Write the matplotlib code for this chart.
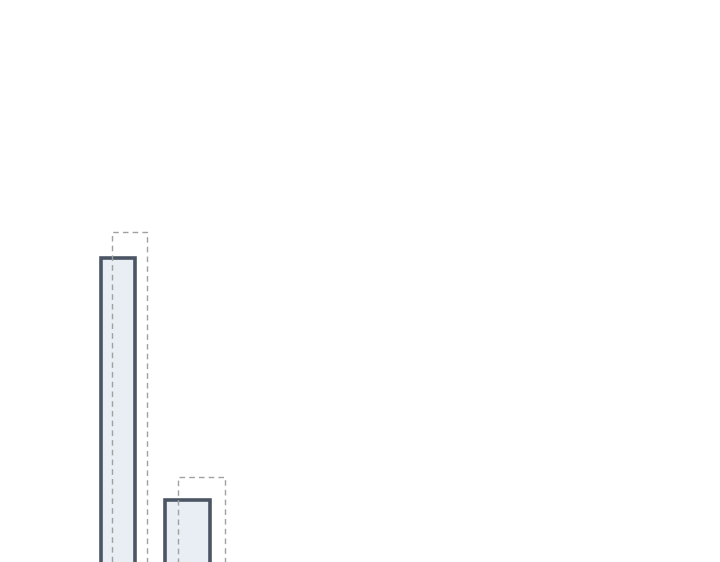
import matplotlib
matplotlib.use('Agg')
from matplotlib import pyplot as plt

# values (figure bottom sits just above 0)
categories = ['A', 'B']
actual = [54.5, 11.4]
target = [59.2, 15.5]

fig = plt.figure(figsize=(7.2, 5.62), dpi=100)
ax = fig.add_axes([0, 0, 1, 1])

x = list(range(len(categories)))
widths = [0.49, 0.65]
t_widths = [0.50, 0.68]
t_offsets = [0.165, 0.20]

ax.bar(x, actual, width=widths, align='center', color='#e9eef4',
       edgecolor='#4b5563', linewidth=2.6, zorder=2)
ax.bar([i + o for i, o in zip(x, t_offsets)], target, width=t_widths,
       align='center', fill=False, edgecolor='#a0a0a0', linewidth=1.0,
       linestyle=(0, (4, 3)), zorder=3)

ax.set_xlim(-1.698, 8.662)
ax.set_ylim(0.4, 100.4)
ax.axis('off')

plt.savefig('out.png', dpi=100)
